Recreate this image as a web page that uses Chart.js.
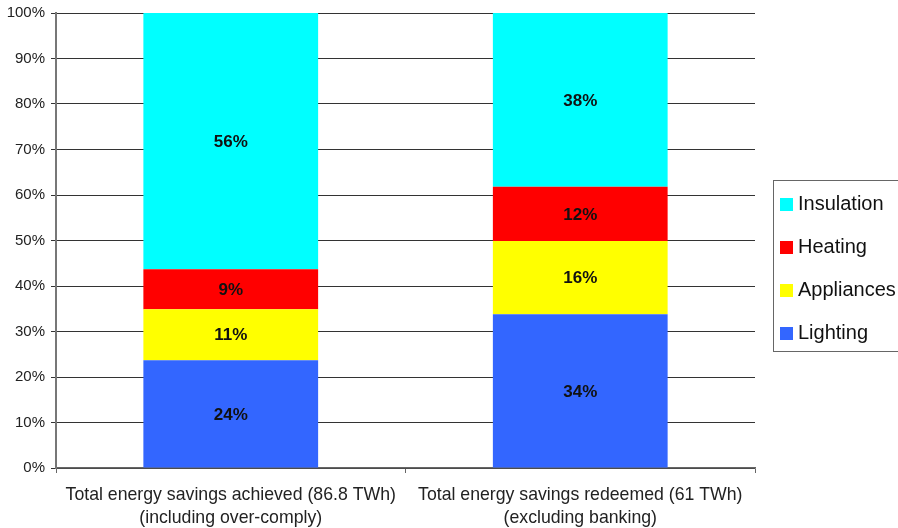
<!DOCTYPE html>
<html>
<head>
<meta charset="utf-8">
<script src="https://cdn.jsdelivr.net/npm/chart.js@4/dist/chart.umd.min.js"></script>
<style>
  html, body { margin: 0; padding: 0; background: #fff; }
  #wrap { position: relative; width: 898px; height: 528px; overflow: hidden; }
  #legend {
    position: absolute; left: 773px; top: 180px; width: 140px; height: 172px;
    border: 1.5px solid #666; box-sizing: border-box;
    font-family: "Liberation Sans", Arial, sans-serif; font-size: 20px; color: #111;
  }
  .item { position: absolute; left: 6px; height: 24px; line-height: 24px; white-space: nowrap; }
  .item span.sw { display: inline-block; width: 13px; height: 13px; margin-right: 5px; vertical-align: -1px; }
</style>
</head>
<body>
<div id="wrap">
  <canvas id="savingsChart" width="898" height="528"></canvas>
  <div id="legend"></div>
</div>
<script>
// categories (two-line labels)
const categories = [
  ['Total energy savings achieved (86.8 TWh)', '(including over-comply)'],
  ['Total energy savings redeemed (61 TWh)', '(excluding banking)']
];
const seriesNames = ['Lighting', 'Appliances', 'Heating', 'Insulation'];
const seriesColors = ['#3366FF', '#FFFF00', '#FF0000', '#00FFFF'];
// percentage shares
const lighting = [23.7, 33.8];
const appliances = [11.2, 16.1];
const heating = [8.8, 11.9];
const insulation = [56.3, 38.2];
const yTicks = [0, 10, 20, 30, 40, 50, 60, 70, 80, 90, 100];

const seriesValues = [lighting, appliances, heating, insulation];

// labels in the middle of each segment
const segmentLabels = {
    id: 'segmentLabels',
    afterDatasetsDraw(chart) {
        const ctx = chart.ctx;
        ctx.save();
        ctx.font = 'bold 17px "Liberation Sans", Arial, sans-serif';
        ctx.fillStyle = '#111';
        ctx.textAlign = 'center';
        ctx.textBaseline = 'middle';
        chart.data.datasets.forEach((ds, i) => {
            const meta = chart.getDatasetMeta(i);
            meta.data.forEach((bar, j) => {
                const p = bar.getProps(['x', 'y', 'base'], true);
                ctx.fillText(Math.round(ds.data[j]) + '%', p.x, (p.y + p.base) / 2 + 1);
            });
        });
        ctx.restore();
    }
};

const ctx = document.getElementById('savingsChart').getContext('2d');
const savingsChart = new Chart(ctx, {
    type: 'bar',
    data: {
        labels: categories,
        datasets: seriesNames.map((name, i) => ({
            label: name,
            data: seriesValues[i],
            backgroundColor: seriesColors[i],
            borderWidth: 0,
            barPercentage: 1,
            categoryPercentage: 0.5
        }))
    },
    options: {
        responsive: false,
        animation: false,
        layout: { padding: { top: 13, right: 143, left: 0, bottom: 0 } },
        plugins: {
            legend: { display: false },
            tooltip: { enabled: false }
        },
        scales: {
            x: {
                stacked: true,
                grid: { display: true, drawOnChartArea: false, offset: true, tickLength: 5, color: '#666', lineWidth: 1 },
                border: { color: '#666', width: 1.5 },
                ticks: {
                    color: '#222',
                    padding: 11,
                    maxRotation: 0,
                    autoSkip: false,
                    font: { family: '"Liberation Sans", Arial, sans-serif', size: 17.7, lineHeight: 1.27 }
                },
                afterFit: (scale) => { scale.height = 60; }
            },
            y: {
                stacked: true,
                min: 0,
                max: 100,
                afterBuildTicks: (scale) => { scale.ticks = yTicks.map(v => ({ value: v })); },
                grid: { color: '#333', lineWidth: 1, tickLength: 5 },
                border: { color: '#777', width: 2 },
                ticks: {
                    color: '#222',
                    padding: 6,
                    font: { family: '"Liberation Sans", Arial, sans-serif', size: 15 },
                    callback: (v) => v + '%'
                },
                afterFit: (scale) => { scale.width = 56; scale.paddingTop = 0; }
            }
        }
    },
    plugins: [segmentLabels]
});

// legend (reverse order like the stack)
const legend = document.getElementById('legend');
const tops = [10, 53, 96, 139];
seriesNames.slice().reverse().forEach((name, k) => {
    const i = seriesNames.length - 1 - k;
    const div = document.createElement('div');
    div.className = 'item';
    div.style.top = tops[k] + 'px';
    div.innerHTML = '<span class="sw" style="background:' + seriesColors[i] + '"></span>' + name;
    legend.appendChild(div);
});
</script>
</body>
</html>
